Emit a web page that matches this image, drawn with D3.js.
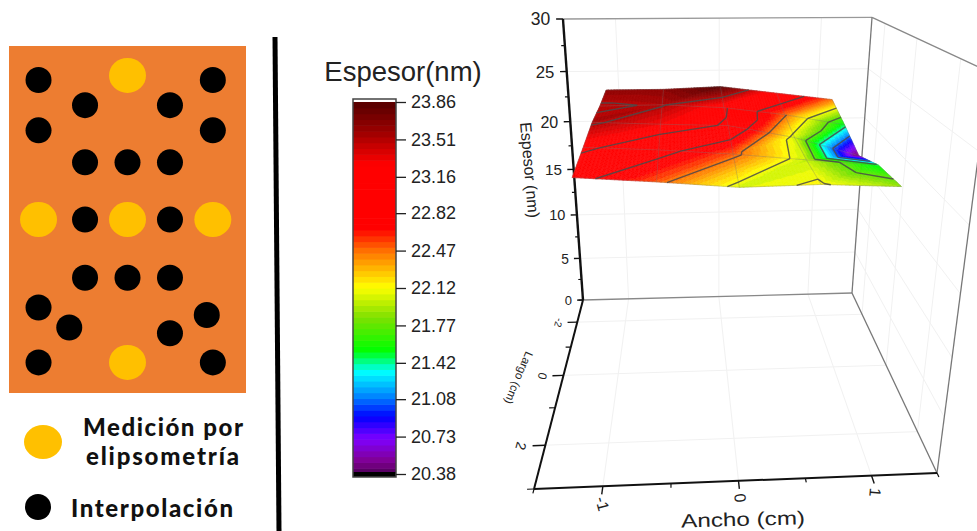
<!DOCTYPE html>
<html>
<head>
<meta charset="utf-8">
<script src="https://cdn.jsdelivr.net/npm/d3@7"></script>
<style>
  html, body { margin: 0; padding: 0; background: #fff; overflow: hidden; }
  text { font-family: "Liberation Sans", Arial, sans-serif; fill: #222; }
  .legend { font-family: "Lato", "Open Sans", sans-serif; font-weight: 900; fill: #111; }
</style>
</head>
<body>
<svg id="chart" width="977" height="531"></svg>
<script>
// surface grid (cm)
const anchoGrid = [-1.1, -0.55, 0, 0.55, 1.1];
const largoGrid = [-2.5, -1.25, 0, 1.25, 2.5];
// thickness (nm), one row per largoGrid value
const espesor0 = [23.65, 23.65, 23.86, 23.16, 22.47];
const espesor1 = [23.48, 23.53, 23.2, 22.5, 21.5];
const espesor2 = [23.55, 23.32, 23.13, 22.05, 20.4];
const espesor3 = [23.22, 22.94, 22.53, 22.0, 21.5];
const espesor4 = [22.93, 22.53, 22.05, 22.15, 21.9];
const espesor = [espesor0, espesor1, espesor2, espesor3, espesor4];

// colour bar
const barTicks = [20.38, 20.73, 21.08, 21.42, 21.77, 22.12, 22.47, 22.82, 23.16, 23.51, 23.86];
const contourLevels = [21.08, 21.42, 21.77, 22.12, 22.47, 22.82, 23.16, 23.51];
const colourValues = [20.38, 20.5, 20.71, 20.92, 21.1, 21.34, 21.54, 21.85, 22.13, 22.32, 22.47, 22.68, 23.28, 23.57, 23.86];
const colourNames = ["#4d0058", "#800090", "#7f00ff", "#0000ff", "#0080ff", "#00ffff", "#00ff00", "#80e000", "#ffff00", "#ffb000", "#ff7000", "#ff0000", "#ff0000", "#a00000", "#550000"];

// axes
const zTicks = [0, 5, 10, 15, 20, 25, 30];
const zMinor = [2.5, 7.5, 12.5, 17.5, 22.5, 27.5];
const xTicks = [-1, 0, 1];
const xMinor = [-1.5, -0.5, 0.5, 1.5];
const yTicks = [-2, 0, 2];
const yMinor = [-3, -1, 1, 3];

// sample points (cm on the sample)
const medicionX = [0, -1.1, 0, 1.055, 0];
const medicionY = [-2.52, 0, 0, 0, 2.5];
const interpX = [-1.1, -0.525, 0.525, 1.055, -1.1, 1.055, -0.525, 0, 0.525, -0.525, 0.525, -0.525, 0, 0.525, -1.1, -0.72, 0.525, 0.98, -1.1, 1.055];
const interpY = [-2.44, -2, -2, -2.44, -1.56, -1.56, -1, -1, -1, 0, 0, 1.02, 1.02, 1.02, 1.54, 1.89, 1.99, 1.67, 2.5, 2.5];

const svg = d3.select("#chart");

const defs = svg.append("defs");
defs.append("filter").attr("id", "soft")
  .attr("x", "-5%").attr("y", "-5%").attr("width", "110%").attr("height", "110%")
  .append("feGaussianBlur").attr("stdDeviation", 0.6);
defs.append("filter").attr("id", "softLine")
  .attr("x", "-5%").attr("y", "-5%").attr("width", "110%").attr("height", "110%")
  .append("feGaussianBlur").attr("stdDeviation", 0.35);

// ---- left panel
const sampleX = d3.scaleLinear().domain([-1.465, 1.465]).range([9, 246]);
const sampleY = d3.scaleLinear().domain([-3.035, 3.035]).range([46, 393]);
svg.append("rect")
  .attr("x", sampleX(-1.465)).attr("y", sampleY(-3.035))
  .attr("width", sampleX(1.465) - sampleX(-1.465))
  .attr("height", sampleY(3.035) - sampleY(-3.035))
  .attr("fill", "#ed7d31");
svg.selectAll(".interp").data(interpX).enter().append("circle")
  .attr("cx", d => sampleX(d))
  .attr("cy", (d, i) => sampleY(interpY[i]))
  .attr("r", 13).attr("fill", "#000");
svg.selectAll(".medicion").data(medicionX).enter().append("ellipse")
  .attr("cx", d => sampleX(d))
  .attr("cy", (d, i) => sampleY(medicionY[i]))
  .attr("rx", 18.5).attr("ry", 17.5).attr("fill", "#ffc000");

svg.append("ellipse").attr("cx", 43).attr("cy", 442).attr("rx", 19).attr("ry", 17).attr("fill", "#ffc000");
svg.append("circle").attr("cx", 38).attr("cy", 507).attr("r", 13).attr("fill", "#000");
svg.append("text").attr("class", "legend").attr("x", 83).attr("y", 436).attr("font-size", 24)
  .attr("textLength", 160).text("Medición por");
svg.append("text").attr("class", "legend").attr("x", 86).attr("y", 465).attr("font-size", 24)
  .attr("textLength", 153).text("elipsometría");
svg.append("text").attr("class", "legend").attr("x", 71).attr("y", 517).attr("font-size", 24)
  .attr("textLength", 162).text("Interpolación");

svg.append("line").attr("x1", 275).attr("y1", 37).attr("x2", 279).attr("y2", 531)
  .attr("stroke", "#000").attr("stroke-width", 5);

// ---- colour bar
const colour = d3.scaleLinear().domain(colourValues).range(colourNames);
const barScale = d3.scaleLinear().domain([20.38, 23.86]).range([474, 102]);
const bands = 64;
const bandSize = (23.86 - 20.38) / bands;
const stepped = v => colour(20.38 + (Math.floor((v - 20.38) / bandSize) + 0.5) * bandSize);

svg.append("text").attr("x", 403).attr("y", 81).attr("text-anchor", "middle")
  .attr("font-size", 27.5).text("Espesor(nm)");

const bar = svg.append("g");
bar.selectAll("rect").data(d3.range(bands)).enter().append("rect")
  .attr("x", 353).attr("width", 43)
  .attr("y", i => barScale(20.38 + (i + 1) * bandSize))
  .attr("height", (barScale(20.38) - barScale(23.86)) / bands + 0.6)
  .attr("fill", i => colour(20.38 + (i + 0.5) * bandSize));
bar.append("rect").attr("x", 353).attr("y", 472).attr("width", 43).attr("height", 5).attr("fill", "#000");
bar.append("rect").attr("x", 353).attr("y", 99).attr("width", 43).attr("height", 3).attr("fill", "#fff");
bar.append("rect").attr("x", 353).attr("y", 99).attr("width", 43).attr("height", 378)
  .attr("fill", "none").attr("stroke", "#444").attr("stroke-width", 1.5);

const barAxis = d3.axisRight(barScale).tickValues(barTicks).tickSize(10).tickPadding(5)
  .tickFormat(d3.format(".2f"));
const barAxisG = svg.append("g").attr("transform", "translate(396,0)").call(barAxis);
barAxisG.select(".domain").remove();
barAxisG.selectAll("line").attr("stroke", "#222").attr("stroke-width", 1.3);
barAxisG.selectAll("text").attr("font-size", 18).attr("fill", "#222")
  .style("font-family", '"Liberation Sans", Arial, sans-serif');

// ---- 3D box: floor homography plus a vertical vanishing point
const sScale = d3.scaleLinear().domain([-1.5, 1.5]).range([0, 1]);
const tScale = d3.scaleLinear().domain([-3, 3]).range([0, 1]);
const boxBL = [583, 300], boxBR = [852, 293], boxFL = [534, 489], boxFR = [937, 473];
const vanish = [716, 2166];
const topY = 19;

const dx1 = [boxBR[0] - boxFR[0], boxBR[1] - boxFR[1]];
const dx2 = [boxFL[0] - boxFR[0], boxFL[1] - boxFR[1]];
const sumP = [boxBL[0] - boxBR[0] + boxFR[0] - boxFL[0], boxBL[1] - boxBR[1] + boxFR[1] - boxFL[1]];
const den = dx1[0] * dx2[1] - dx1[1] * dx2[0];
const hg = (sumP[0] * dx2[1] - sumP[1] * dx2[0]) / den;
const hh = (dx1[0] * sumP[1] - dx1[1] * sumP[0]) / den;
const ha = boxBR[0] - boxBL[0] + hg * boxBR[0];
const hb = boxFL[0] - boxBL[0] + hh * boxFL[0];
const hd = boxBR[1] - boxBL[1] + hg * boxBR[1];
const he = boxFL[1] - boxBL[1] + hh * boxFL[1];
const zk = -(boxBL[1] - topY) / (30 * (vanish[1] - topY));

function project(x, y, z) {
  const s = sScale(x), t = tScale(y), k = z * zk;
  const w = 1 + hg * s + hh * t + k;
  return [(ha * s + hb * t + boxBL[0] + k * vanish[0]) / w,
          (hd * s + he * t + boxBL[1] + k * vanish[1]) / w];
}

function seg(g, a, b, colorName, width) {
  const pa = project(a[0], a[1], a[2]), pb = project(b[0], b[1], b[2]);
  return g.append("line").attr("x1", pa[0]).attr("y1", pa[1]).attr("x2", pb[0]).attr("y2", pb[1])
    .attr("stroke", colorName).attr("stroke-width", width);
}

const plot = svg.append("g");

// wall grid
const gridCol = "#f1f1f1";
xTicks.forEach(x => {
  seg(plot, [x, -3, 0], [x, -3, 30], gridCol, 1);
  seg(plot, [x, -3, 0], [x, 3, 0], gridCol, 1);
});
yTicks.forEach(y => {
  seg(plot, [-1.5, y, 0], [1.5, y, 0], gridCol, 1);
  seg(plot, [1.5, y, 0], [1.5, y, 30], gridCol, 1);
});
zTicks.slice(1, -1).forEach(z => {
  seg(plot, [-1.5, -3, z], [1.5, -3, z], gridCol, 1);
  seg(plot, [1.5, -3, z], [1.5, 3, z], gridCol, 1);
});

// box edges
seg(plot, [-1.5, -3, 30], [1.5, -3, 30], "#999", 1.3);
seg(plot, [-1.5, -3, 0], [1.5, -3, 0], "#888", 1.3);
seg(plot, [1.5, -3, 0], [1.5, -3, 30], "#777", 1.3);
seg(plot, [1.5, -3, 0], [1.5, 3, 0], "#777", 1.3);
seg(plot, [1.5, -3, 30], [1.5, 3, 30], "#888", 1.3);
seg(plot, [1.5, 3, 0], [1.5, 3, 30], "#777", 1.3);

// axes
seg(plot, [-1.5, -3, 0], [-1.5, -3, 30], "#111", 2.4);
seg(plot, [-1.5, -3, 0], [-1.5, 3, 0], "#111", 2);
seg(plot, [-1.5, 3, 0], [1.5, 3, 0], "#111", 2);

zTicks.forEach(z => seg(plot, [-1.5, -3, z], [-1.565, -3, z], "#111", 1.4));
zMinor.forEach(z => seg(plot, [-1.5, -3, z], [-1.535, -3, z], "#111", 1.2));
xTicks.forEach(x => seg(plot, [x, 3, 0], [x, 3.17, 0], "#111", 1.4));
xMinor.forEach(x => seg(plot, [x, 3, 0], [x, 3.09, 0], "#111", 1.2));
yTicks.forEach(y => seg(plot, [-1.5, y, 0], [-1.6, y, 0], "#111", 1.4));
yMinor.forEach(y => seg(plot, [-1.5, y, 0], [-1.55, y, 0], "#111", 1.2));

const zFont = d3.scaleLinear().domain([0, 30]).range([13, 17.5]);
zTicks.forEach(z => {
  const p = project(-1.62, -3, z);
  plot.append("text").attr("x", p[0]).attr("y", p[1]).attr("dy", "0.36em")
    .attr("text-anchor", "end").attr("font-size", zFont(z)).text(z);
});
xTicks.forEach(x => {
  const p = project(x * 0.985, 3.36, 0);
  plot.append("text").attr("text-anchor", "middle").attr("dy", "0.36em")
    .attr("transform", `translate(${p[0]},${p[1]}) rotate(${85 + x * 10})`)
    .attr("font-size", 16).text(x);
});
const yFont = d3.scaleLinear().domain([-2, 2]).range([10, 14]);
yTicks.forEach(y => {
  const p = project(-1.69, y, 0);
  plot.append("text").attr("text-anchor", "middle").attr("dy", "0.36em")
    .attr("transform", `translate(${p[0]},${p[1]}) rotate(105)`)
    .attr("font-size", yFont(y)).text(y);
});

plot.append("text").attr("text-anchor", "middle").attr("dy", "0.36em")
  .attr("transform", "translate(530,170) rotate(85)").attr("font-size", 16).text("Espesor (nm)");
plot.append("text").attr("text-anchor", "middle").attr("dy", "0.36em")
  .attr("transform", "translate(519,378) rotate(113)").attr("font-size", 11.5).text("Largo (cm)");
plot.append("text").attr("text-anchor", "middle").attr("dy", "0.36em")
  .attr("transform", "translate(743,519) rotate(-1.5)").attr("font-size", 19)
  .attr("textLength", 124).attr("lengthAdjust", "spacingAndGlyphs").text("Ancho (cm)");

// ---- surface, cut in small triangles for the colour fill
const surface = svg.append("g");
const fills = surface.append("g").attr("filter", "url(#soft)");
const lines = surface.append("g").attr("filter", "url(#softLine)");
const subdiv = 20;
const triangles = [];
for (let r = 0; r < largoGrid.length - 1; r++) {
  for (let c = 0; c < anchoGrid.length - 1; c++) {
    const a = [anchoGrid[c], largoGrid[r], espesor[r][c]];
    const b = [anchoGrid[c + 1], largoGrid[r], espesor[r][c + 1]];
    const d = [anchoGrid[c], largoGrid[r + 1], espesor[r + 1][c]];
    const e = [anchoGrid[c + 1], largoGrid[r + 1], espesor[r + 1][c + 1]];
    triangles.push([a, b, d], [b, e, d]);
  }
}

const mix = (a, b, d, u, v) => [0, 1, 2].map(i => a[i] + (b[i] - a[i]) * u + (d[i] - a[i]) * v);
const toPath = pts => "M" + pts.map(p => project(p[0], p[1], p[2]).map(n => n.toFixed(2)).join(",")).join("L") + "Z";

triangles.forEach(tri => {
  const [a, b, d] = tri;
  const n = subdiv;
  for (let i = 0; i < n; i++) {
    for (let j = 0; j < n - i; j++) {
      const p1 = mix(a, b, d, i / n, j / n);
      const p2 = mix(a, b, d, (i + 1) / n, j / n);
      const p3 = mix(a, b, d, i / n, (j + 1) / n);
      const f1 = stepped((p1[2] + p2[2] + p3[2]) / 3);
      fills.append("path").attr("d", toPath([p1, p2, p3])).attr("fill", f1).attr("stroke", f1).attr("stroke-width", 0.4);
      if (j < n - i - 1) {
        const p4 = mix(a, b, d, (i + 1) / n, (j + 1) / n);
        const f2 = stepped((p2[2] + p3[2] + p4[2]) / 3);
        fills.append("path").attr("d", toPath([p2, p4, p3])).attr("fill", f2).attr("stroke", f2).attr("stroke-width", 0.4);
      }
    }
  }
});

// mesh lines
const meshLine = d3.line().x(p => p[0]).y(p => p[1]);
espesor.forEach((row, r) => {
  lines.append("path").attr("fill", "none").attr("stroke", "#777").attr("stroke-opacity", 0.4).attr("stroke-width", 0.8)
    .attr("d", meshLine(row.map((z, c) => project(anchoGrid[c], largoGrid[r], z))));
});
anchoGrid.forEach((x, c) => {
  lines.append("path").attr("fill", "none").attr("stroke", "#777").attr("stroke-opacity", 0.4).attr("stroke-width", 0.8)
    .attr("d", meshLine(largoGrid.map((y, r) => project(x, y, espesor[r][c]))));
});

// contour lines, linear on each triangle
contourLevels.forEach(level => {
  let path = "";
  triangles.forEach(tri => {
    const cuts = [];
    [[0, 1], [1, 2], [2, 0]].forEach(([i, j]) => {
      const p = tri[i], q = tri[j];
      if ((p[2] - level) * (q[2] - level) < 0) {
        const u = (level - p[2]) / (q[2] - p[2]);
        cuts.push(project(p[0] + (q[0] - p[0]) * u, p[1] + (q[1] - p[1]) * u, level));
      }
    });
    if (cuts.length === 2) path += meshLine(cuts);
  });
  lines.append("path").attr("d", path).attr("fill", "none")
    .attr("stroke", "#4a4a4a").attr("stroke-opacity", 0.85).attr("stroke-width", 1.4);
});
</script>
</body>
</html>
